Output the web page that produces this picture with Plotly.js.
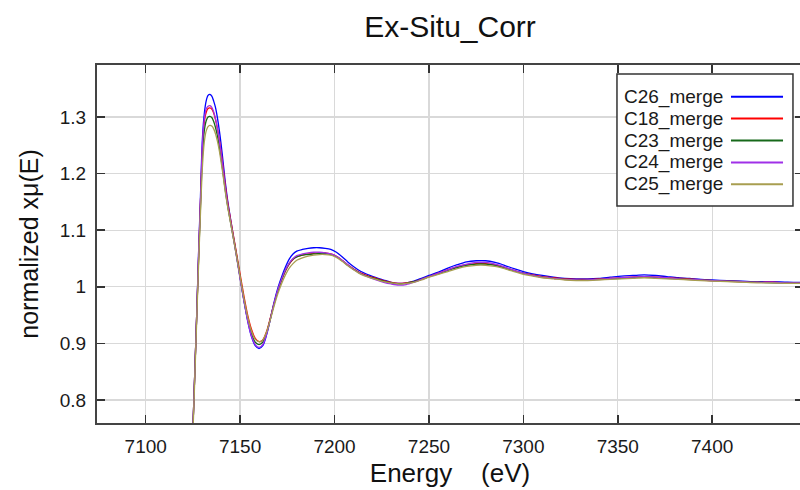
<!DOCTYPE html>
<html>
<head>
<meta charset="utf-8">
<script src="https://cdn.plot.ly/plotly-3.0.1.min.js"></script>
<style>
html,body{margin:0;padding:0;overflow:hidden;background:#fff;width:800px;height:490px;}
#chart{width:803px;height:490px;}
</style>
</head>
<body>
<div id="chart"></div>
<script>
// Energy grid (eV)
const energy = [7110,7118,7122,7124,7125,7126,7127,7128,7129,7130,
7131,7132,7133,7134,7135,7136,7137,7138,7139,7140,
7141,7142,7143,7144,7146,7148,7150,7152,7154,7156,
7158,7160,7162,7164,7166,7168,7170,7172,7174,7176,
7178,7180,7183,7186,7189,7192,7195,7198,7201,7204,
7207,7210,7214,7218,7222,7226,7230,7234,7238,7242,
7246,7250,7255,7260,7265,7270,7275,7280,7285,7290,
7295,7300,7305,7310,7316,7322,7328,7334,7340,7346,
7352,7358,7364,7370,7376,7382,7388,7394,7400,7408,
7416,7424,7432,7440,7448];

const c26 = [0.10,0.30,0.50,0.66,0.75,0.85,0.95,1.06,1.16,1.26,
1.305,1.328,1.338,1.340,1.337,1.328,1.316,1.298,1.276,1.250,
1.220,1.189,1.162,1.139,1.098,1.058,1.016,0.976,0.940,0.912,
0.896,0.891,0.896,0.915,0.943,0.973,0.998,1.018,1.035,1.049,
1.058,1.063,1.066,1.068,1.069,1.069,1.068,1.066,1.061,1.053,
1.044,1.036,1.027,1.021,1.016,1.012,1.008,1.006,1.007,1.010,
1.015,1.020,1.026,1.033,1.039,1.044,1.046,1.046,1.043,1.038,
1.032,1.027,1.023,1.020,1.017,1.015,1.014,1.014,1.015,1.017,
1.019,1.020,1.021,1.020,1.018,1.016,1.015,1.013,1.012,1.011,
1.010,1.009,1.009,1.008,1.008];

const c18 = [0.10,0.30,0.50,0.66,0.75,0.85,0.95,1.05,1.15,1.24,
1.29,1.308,1.315,1.316,1.314,1.307,1.295,1.279,1.259,1.236,
1.210,1.183,1.158,1.137,1.099,1.061,1.022,0.984,0.950,0.925,
0.909,0.903,0.906,0.921,0.945,0.970,0.993,1.012,1.028,1.040,
1.048,1.053,1.056,1.058,1.059,1.060,1.060,1.058,1.054,1.047,
1.039,1.032,1.024,1.019,1.015,1.011,1.008,1.006,1.007,1.009,
1.013,1.018,1.024,1.030,1.035,1.039,1.041,1.041,1.039,1.034,
1.029,1.024,1.021,1.018,1.016,1.014,1.013,1.013,1.014,1.015,
1.016,1.017,1.018,1.017,1.016,1.015,1.014,1.012,1.011,1.010,
1.009,1.008,1.008,1.007,1.007];

const c23 = [0.10,0.30,0.50,0.66,0.75,0.85,0.95,1.05,1.14,1.23,
1.275,1.293,1.300,1.301,1.299,1.292,1.281,1.266,1.247,1.225,
1.200,1.174,1.151,1.131,1.094,1.056,1.016,0.977,0.943,0.917,
0.902,0.898,0.902,0.918,0.943,0.970,0.994,1.013,1.029,1.041,
1.049,1.053,1.056,1.057,1.058,1.059,1.059,1.057,1.053,1.046,
1.038,1.031,1.023,1.018,1.014,1.010,1.007,1.005,1.006,1.009,
1.013,1.018,1.023,1.029,1.034,1.038,1.040,1.040,1.038,1.033,
1.028,1.024,1.020,1.017,1.015,1.013,1.012,1.012,1.013,1.014,
1.015,1.016,1.017,1.016,1.015,1.014,1.013,1.012,1.011,1.010,
1.009,1.008,1.007,1.007,1.007];

const c24 = [0.10,0.30,0.50,0.66,0.75,0.85,0.95,1.06,1.15,1.25,
1.295,1.314,1.319,1.320,1.317,1.309,1.296,1.279,1.258,1.234,
1.207,1.179,1.154,1.133,1.095,1.055,1.014,0.975,0.940,0.913,
0.898,0.893,0.898,0.916,0.943,0.971,0.995,1.014,1.030,1.042,
1.050,1.055,1.058,1.060,1.061,1.061,1.060,1.058,1.054,1.047,
1.039,1.031,1.023,1.017,1.012,1.008,1.005,1.003,1.004,1.008,
1.013,1.018,1.024,1.030,1.036,1.040,1.043,1.043,1.040,1.035,
1.029,1.024,1.020,1.017,1.015,1.013,1.012,1.012,1.013,1.015,
1.016,1.017,1.018,1.017,1.016,1.014,1.013,1.012,1.011,1.010,
1.009,1.008,1.008,1.007,1.007];

const c25 = [0.10,0.30,0.50,0.65,0.74,0.84,0.94,1.04,1.13,1.21,
1.255,1.275,1.283,1.285,1.284,1.279,1.270,1.257,1.240,1.219,
1.196,1.171,1.149,1.130,1.094,1.057,1.018,0.980,0.947,0.922,
0.907,0.903,0.906,0.920,0.942,0.966,0.988,1.006,1.021,1.033,
1.041,1.047,1.051,1.054,1.056,1.057,1.057,1.056,1.052,1.045,
1.037,1.030,1.022,1.017,1.013,1.009,1.007,1.005,1.006,1.008,
1.012,1.017,1.022,1.027,1.032,1.036,1.038,1.038,1.036,1.032,
1.027,1.022,1.019,1.016,1.014,1.012,1.011,1.011,1.012,1.013,
1.014,1.015,1.016,1.015,1.014,1.013,1.012,1.011,1.010,1.009,
1.008,1.007,1.007,1.006,1.006];

const seriesNames = ["C26_merge","C18_merge","C23_merge","C24_merge","C25_merge"];
const seriesValues = [c26, c18, c23, c24, c25];
const seriesColors = ["#0000ff","#ff0000","#16691a","#a030e8","#a89e50"];

const xTicks = [7100,7150,7200,7250,7300,7350,7400];
const yTicks = [0.8,0.9,1.0,1.1,1.2,1.3];

const FONT = "Liberation Sans, Arial, Helvetica, sans-serif";

const traces = seriesNames.map((name, i) => ({
  type: "scatter",
  mode: "lines",
  name: name,
  x: energy,
  y: seriesValues[i],
  line: {color: seriesColors[i], width: 1.3, shape: "spline", smoothing: 0.8},
  showlegend: false,
  hoverinfo: "skip"
}));

// custom legend (text on the left, line sample on the right), built from the series arrays
const legX0 = 0.7365, legX1 = 0.9858, legY0 = 0.606, legY1 = 0.975;
const entryTop = 0.9115, entryStep = 0.0612;
const shapes = [{
  type: "rect", xref: "paper", yref: "paper",
  x0: legX0, x1: legX1, y0: legY0, y1: legY1,
  fillcolor: "#ffffff", line: {color: "#333333", width: 1.5}, layer: "above"
}];
const annotations = [];
seriesNames.forEach((name, i) => {
  const yy = entryTop - i * entryStep;
  annotations.push({
    xref: "paper", yref: "paper", x: 0.743, y: yy,
    xanchor: "left", yanchor: "middle", showarrow: false,
    text: name, font: {family: FONT, size: 19, color: "#1a1a1a"}
  });
  shapes.push({
    type: "line", xref: "paper", yref: "paper",
    x0: 0.898, x1: 0.9717, y0: yy, y1: yy,
    line: {color: seriesColors[i], width: 2}, layer: "above"
  });
});

const layout = {
  width: 803, height: 490,
  margin: {l: 97, r: 0, t: 65, b: 67, pad: 0},
  paper_bgcolor: "#ffffff", plot_bgcolor: "#ffffff",
  font: {family: FONT, color: "#1a1a1a", size: 19},
  title: {text: "Ex-Situ_Corr", font: {family: FONT, size: 30, color: "#111111"},
          x: 0.5, xanchor: "center", y: 0.945, yanchor: "middle", xref: "paper"},
  xaxis: {
    range: [7074.2, 7448.1],
    tickvals: xTicks, ticktext: xTicks.map(String),
    showgrid: true, gridcolor: "#d9d9d9", gridwidth: 1.3,
    zeroline: false,
    showline: true, linecolor: "#444444", linewidth: 2, mirror: "ticks",
    ticks: "inside", ticklen: 8, tickwidth: 1.5, tickcolor: "#333333",
    tickfont: {family: FONT, size: 19, color: "#1a1a1a"},
    ticklabelstandoff: 5,
    title: {text: "Energy\u00a0\u00a0\u00a0\u00a0(eV)", font: {family: FONT, size: 26, color: "#111111"}, standoff: 8}
  },
  yaxis: {
    range: [0.7594, 1.3918],
    tickvals: yTicks, ticktext: ["0.8","0.9","1","1.1","1.2","1.3"],
    showgrid: true, gridcolor: "#d9d9d9", gridwidth: 1.3,
    zeroline: false,
    showline: true, linecolor: "#444444", linewidth: 2, mirror: "ticks",
    ticks: "inside", ticklen: 8, tickwidth: 1.5, tickcolor: "#333333",
    tickfont: {family: FONT, size: 19, color: "#1a1a1a"},
    ticklabelstandoff: 5,
    title: {text: "normalized x\u03bc(E)", font: {family: FONT, size: 25, color: "#111111"}, standoff: 14}
  },
  shapes: shapes,
  annotations: annotations,
  showlegend: false
};

Plotly.newPlot("chart", traces, layout, {staticPlot: true, displayModeBar: false});
</script>
</body>
</html>
